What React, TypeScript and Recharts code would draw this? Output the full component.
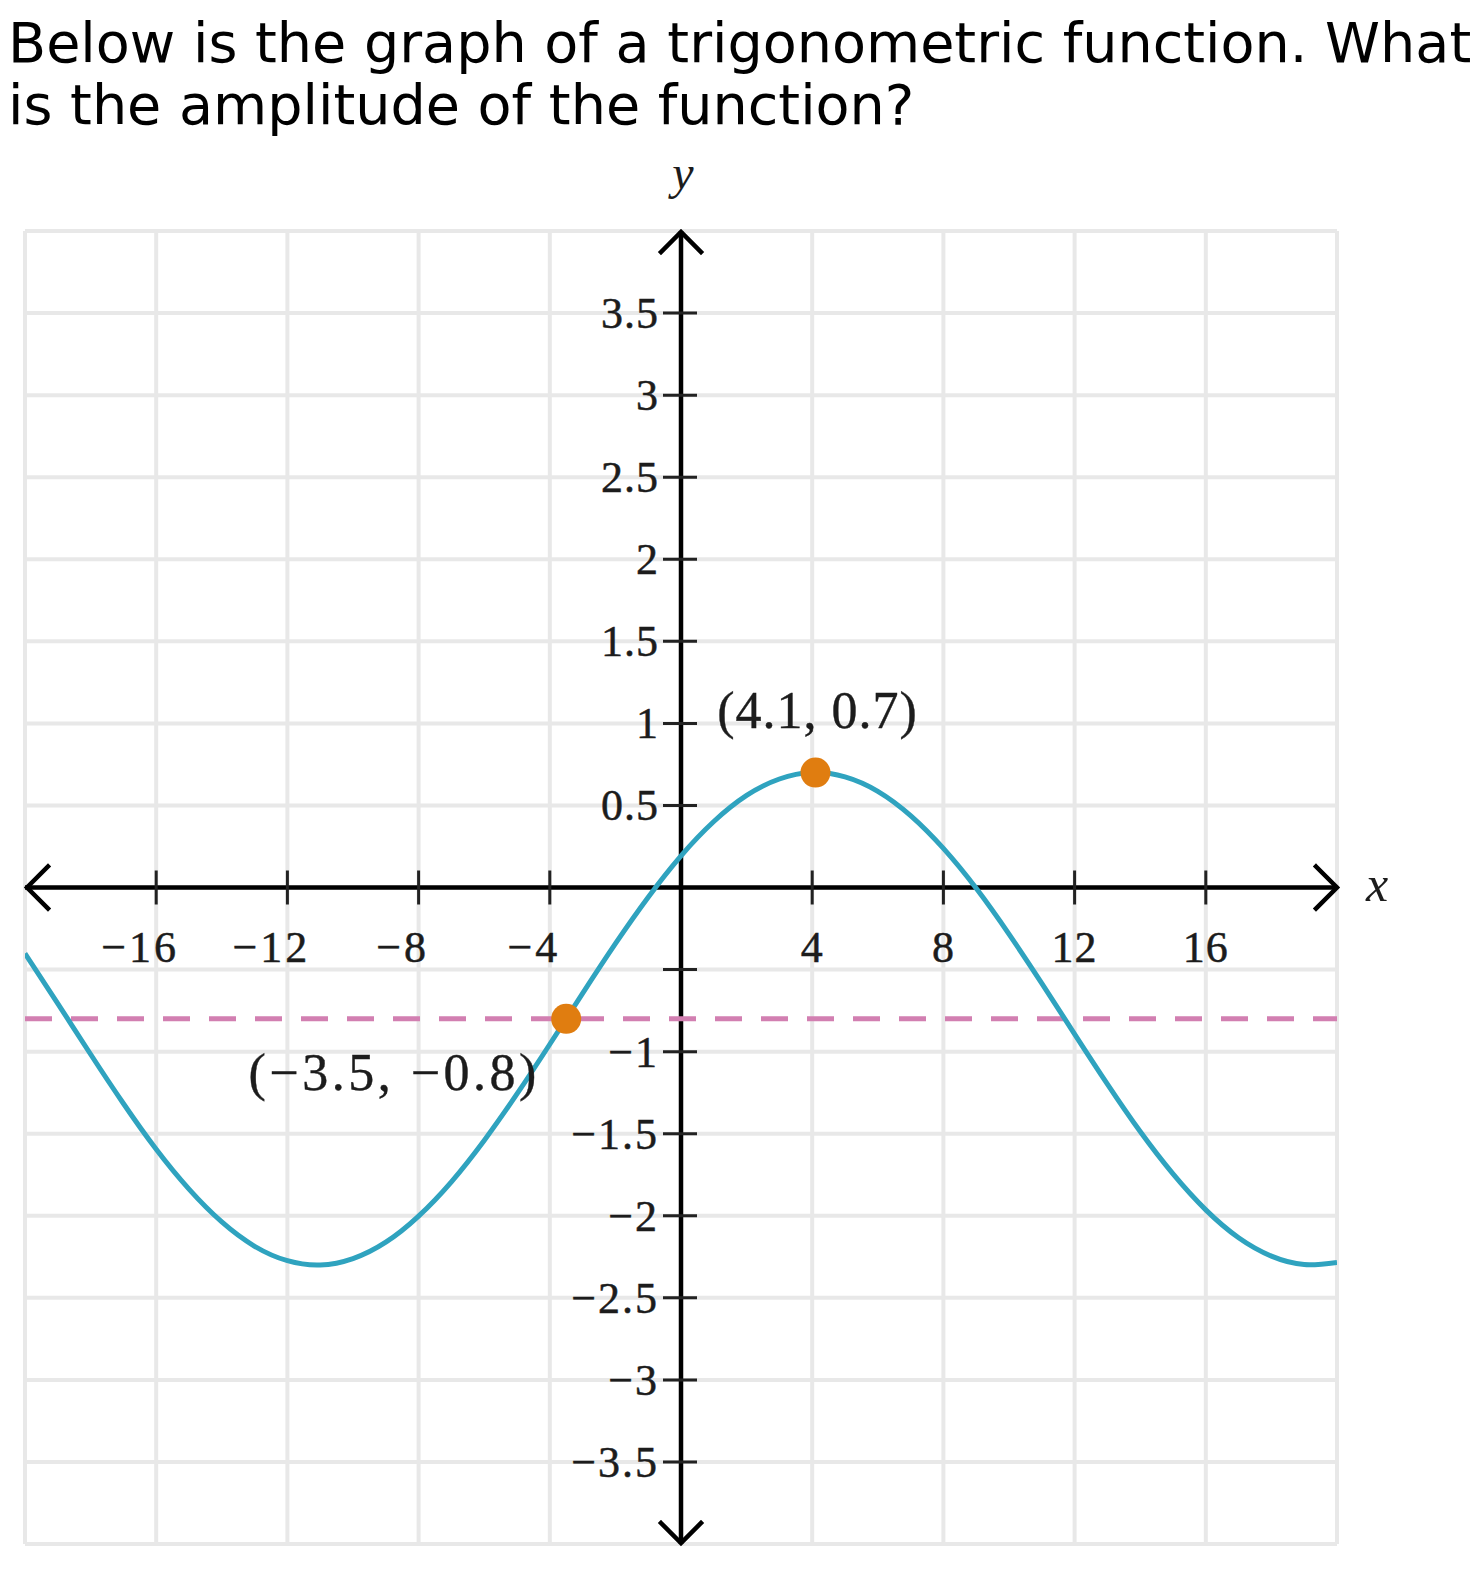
import {
  CartesianGrid,
  ComposedChart,
  Line,
  ReferenceDot,
  ReferenceLine,
  Scatter,
  XAxis,
  YAxis,
} from "recharts"

// curve, one sample per x unit
const curveX = [
  -20, -19, -18, -17, -16, -15, -14, -13, -12, -11, -10, -9, -8, -7, -6, -5, -4,
  -3, -2, -1, 0, 1, 2, 3, 4, 5, 6, 7, 8, 9, 10, 11, 12, 13, 14, 15, 16, 17, 18,
  19, 20,
]
const curveY = [
  -0.402, -0.707, -1.016, -1.316, -1.595, -1.838, -2.038, -2.186, -2.274, -2.3,
  -2.261, -2.161, -2.002, -1.793, -1.541, -1.258, -0.955, -0.645, -0.342, -0.059,
  0.193, 0.402, 0.561, 0.661, 0.7, 0.674, 0.586, 0.438, 0.238, -0.005, -0.284,
  -0.584, -0.893, -1.198, -1.487, -1.745, -1.964, -2.134, -2.246, -2.297, -2.284,
]

const midline = -0.8

const pointX = [4.1, -3.5]
const pointY = [0.7, -0.8]
const pointLabels = ["(4.1, 0.7)", "(−3.5, −0.8)"]

const gridX = [-20, -16, -12, -8, -4, 0, 4, 8, 12, 16, 20]
const gridY = [-4, -3.5, -3, -2.5, -2, -1.5, -1, -0.5, 0, 0.5, 1, 1.5, 2, 2.5, 3, 3.5, 4]

const xTickVals = [-16, -12, -8, -4, 4, 8, 12, 16]
const xTickLabels = ["−16", "−12", "−8", "−4", "4", "8", "12", "16"]
const yTickVals = [3.5, 3, 2.5, 2, 1.5, 1, 0.5, -0.5, -1, -1.5, -2, -2.5, -3, -3.5]
const yTickLabels = ["3.5", "3", "2.5", "2", "1.5", "1", "0.5", "", "−1", "−1.5", "−2", "−2.5", "−3", "−3.5"]

const curveData = curveX.map((x, i) => ({ x, y: curveY[i] }))
const pointData = pointX.map((x, i) => ({ x, y: pointY[i], label: pointLabels[i] }))

const SERIF = "'Liberation Serif', 'DejaVu Serif', serif"
const BLUE = "#2fa3bf"
const ORANGE = "#e07d10"
const PINK = "#d27fb1"
const INK = "#1c1c1c"

function XTick({ cx, cy, label }: { cx?: number; cy?: number; label: string }) {
  if (cx == null || cy == null) return null
  const neg = label.startsWith("−")
  return (
    <g>
      <line x1={cx} x2={cx} y1={cy - 17} y2={cy + 17} stroke="#222" strokeWidth={3} />
      <text
        x={cx + (neg ? -16 : 0)}
        y={cy + 74}
        textAnchor="middle"
        fontFamily={SERIF}
        fontSize={44}
        fill={INK}
        stroke={INK}
        strokeWidth={0.5}
        letterSpacing={neg ? 3 : 1}
      >
        {label}
      </text>
    </g>
  )
}

function YTick({ cx, cy, label }: { cx?: number; cy?: number; label: string }) {
  if (cx == null || cy == null) return null
  return (
    <g>
      <line x1={cx - 18} x2={cx + 16} y1={cy} y2={cy} stroke="#222" strokeWidth={3} />
      <text
        x={cx - 22}
        y={cy + 15}
        textAnchor="end"
        fontFamily={SERIF}
        fontSize={44}
        fill={INK}
        stroke={INK}
        strokeWidth={0.5}
        letterSpacing={label.startsWith("−") ? 2 : 1}
      >
        {label}
      </text>
    </g>
  )
}

function Arrow({ cx, cy, dir }: { cx?: number; cy?: number; dir: "up" | "down" | "left" | "right" }) {
  if (cx == null || cy == null) return null
  let d = ""
  if (dir === "up") d = `M${cx - 20},${cy + 21} L${cx},${cy + 1} L${cx + 20},${cy + 21}`
  if (dir === "down") d = `M${cx - 20},${cy - 21} L${cx},${cy - 1} L${cx + 20},${cy - 21}`
  if (dir === "right") d = `M${cx - 21},${cy - 21} L${cx},${cy} L${cx - 21},${cy + 21}`
  if (dir === "left") d = `M${cx + 23},${cy - 21} L${cx + 2},${cy} L${cx + 23},${cy + 21}`
  return (
    <g>
      <path d={d} fill="none" stroke="#000" strokeWidth={4.5} strokeLinecap="square" />
      {dir === "up" && (
        <text x={cx + 2} y={cy - 42} textAnchor="middle" fontFamily={SERIF} fontStyle="italic" fontSize={48} fill={INK}>
          y
        </text>
      )}
      {dir === "right" && (
        <text x={cx + 40} y={cy + 13} textAnchor="middle" fontFamily={SERIF} fontStyle="italic" fontSize={50} fill={INK}>
          x
        </text>
      )}
    </g>
  )
}

function PointShape(props: any) {
  const { cx, cy, payload } = props
  const first = payload.x > 0
  return (
    <g>
      <circle cx={cx} cy={cy} r={15} fill={ORANGE} />
      <text
        x={first ? cx + 2 : cx - 172}
        y={first ? cy - 45 : cy + 71}
        textAnchor="middle"
        fontFamily={SERIF}
        fontSize={52}
        fill={INK}
        stroke={INK}
        strokeWidth={0.4}
        letterSpacing={first ? 1 : 3.5}
      >
        {payload.label}
      </text>
    </g>
  )
}

export default function App() {
  return (
    <div style={{ position: "absolute", left: 0, top: 0, width: 1479, height: 1574, background: "#fff" }}>
      <div
        style={{
          position: "absolute",
          left: 8,
          top: 12,
          fontFamily: "'DejaVu Sans', sans-serif",
          fontSize: 55.6,
          lineHeight: "61.5px",
          whiteSpace: "nowrap",
          color: "#000",
        }}
      >
        Below is the graph of a trigonometric function. What
        <br />
        is the amplitude of the function?
      </div>
      <div style={{ position: "absolute", left: 0, top: 0 }}>
        <ComposedChart
          width={1479}
          height={1574}
          data={curveData}
          margin={{ top: 231, right: 142, bottom: 30, left: 25 }}
        >
          <CartesianGrid stroke="#e8e8e8" strokeWidth={4} />
          <XAxis type="number" dataKey="x" domain={[-20, 20]} ticks={gridX} allowDataOverflow hide />
          <YAxis type="number" domain={[-4, 4]} ticks={gridY} allowDataOverflow hide />
          <ReferenceLine x={0} stroke="#000" strokeWidth={4.5} />
          <ReferenceLine y={0} stroke="#000" strokeWidth={4.5} />
          {xTickVals.map((v, i) => (
            <ReferenceDot
              key={`xt${v}`}
              x={v}
              y={0}
              r={0}
              ifOverflow="visible"
              shape={(p: any) => <XTick cx={p.cx} cy={p.cy} label={xTickLabels[i]} />}
            />
          ))}
          {yTickVals.map((v, i) => (
            <ReferenceDot
              key={`yt${v}`}
              x={0}
              y={v}
              r={0}
              ifOverflow="visible"
              shape={(p: any) => <YTick cx={p.cx} cy={p.cy} label={yTickLabels[i]} />}
            />
          ))}
          <ReferenceDot x={0} y={4} r={0} ifOverflow="visible" shape={(p: any) => <Arrow cx={p.cx} cy={p.cy} dir="up" />} />
          <ReferenceDot x={0} y={-4} r={0} ifOverflow="visible" shape={(p: any) => <Arrow cx={p.cx} cy={p.cy} dir="down" />} />
          <ReferenceDot x={20} y={0} r={0} ifOverflow="visible" shape={(p: any) => <Arrow cx={p.cx} cy={p.cy} dir="right" />} />
          <ReferenceDot x={-20} y={0} r={0} ifOverflow="visible" shape={(p: any) => <Arrow cx={p.cx} cy={p.cy} dir="left" />} />
          <ReferenceLine y={midline} stroke={PINK} strokeWidth={5} strokeDasharray="27 19" />
          <Line
            type="natural"
            dataKey="y"
            stroke={BLUE}
            strokeWidth={5}
            dot={false}
            activeDot={false}
            isAnimationActive={false}
          />
          <Scatter data={pointData} dataKey="y" shape={PointShape} isAnimationActive={false} />
        </ComposedChart>
      </div>
    </div>
  )
}
